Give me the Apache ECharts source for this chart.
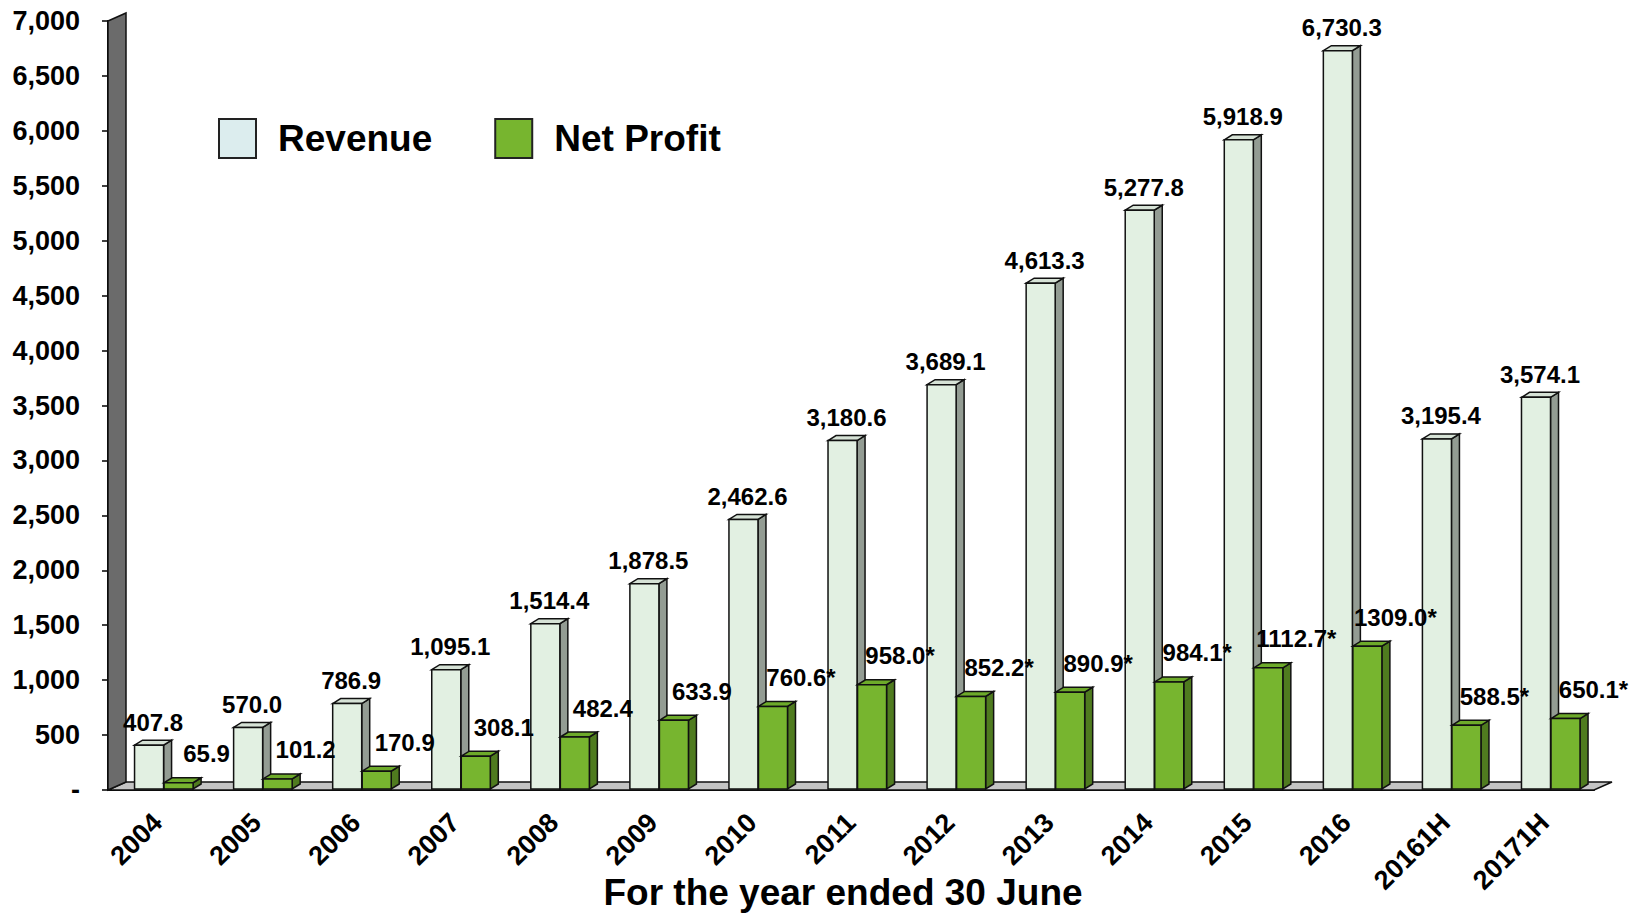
<!DOCTYPE html>
<html>
<head>
<meta charset="utf-8">
<script src="https://cdn.jsdelivr.net/npm/echarts@6/dist/echarts.min.js"></script>
<style>
html,body{margin:0;padding:0;background:#fff;}
#chart{width:1637px;height:913px;}
</style>
</head>
<body>
<div id="chart"></div>
<script>
// ---- data ----
const categories = ['2004','2005','2006','2007','2008','2009','2010','2011','2012','2013','2014','2015','2016','20161H','20171H'];
const revenue = [407.8, 570.0, 786.9, 1095.1, 1514.4, 1878.5, 2462.6, 3180.6, 3689.1, 4613.3, 5277.8, 5918.9, 6730.3, 3195.4, 3574.1];
const netProfit = [65.9, 101.2, 170.9, 308.1, 482.4, 633.9, 760.6, 958.0, 852.2, 890.9, 984.1, 1112.7, 1309.0, 588.5, 650.1];
const netProfitNote = ['', '', '', '', '', '', '*', '*', '*', '*', '*', '*', '*', '*', '*'];
const yMin = 0, yMax = 7000, yInterval = 500;
const xTitle = 'For the year ended 30 June';

// ---- styling ----
const FONT = 'Liberation Sans, Arial, sans-serif';
const BAR_DX = 8, BAR_DY = -5;
const WALL_DX = 18, WALL_DY = -8;

function fmtRevenue(v) {
  return v.toLocaleString('en-US', {minimumFractionDigits: 1, maximumFractionDigits: 1});
}

function makeBarRender(opt) {
  return function (params, api) {
    const idx = api.value(0), val = api.value(1);
    const c = api.coord([idx, val]);
    const b = api.coord([idx, 0]);
    const W = api.size([1, 0])[0];
    const x = c[0] + opt.offset * W;
    const w = opt.width * W;
    const top = c[1], bot = b[1] - 1;
    const stroke = {stroke: '#111', lineWidth: 1.5};
    const label = opt.label(idx, val);
    return {
      type: 'group',
      children: [
        {type: 'polygon', shape: {points: [[x + w, top], [x + w + BAR_DX, top + BAR_DY], [x + w + BAR_DX, bot + BAR_DY], [x + w, bot]]},
         style: Object.assign({fill: opt.side}, stroke)},
        {type: 'polygon', shape: {points: [[x, top], [x + BAR_DX, top + BAR_DY], [x + w + BAR_DX, top + BAR_DY], [x + w, top]]},
         style: Object.assign({fill: opt.top}, stroke)},
        {type: 'rect', shape: {x: x, y: top, width: w, height: bot - top},
         style: Object.assign({fill: opt.front}, stroke)},
        {type: 'text', z2: 100,
         style: {text: label, x: x + w / 2 + opt.labelDx, y: top - opt.labelDy,
                 align: 'center', verticalAlign: 'middle',
                 font: 'bold 24px ' + FONT, fill: '#000'}}
      ]
    };
  };
}

function renderFrame(params, api) {
  const cs = params.coordSys;
  const x0 = cs.x, x1 = cs.x + cs.width;
  const yTop = api.coord([0, yMax])[1];
  const y0 = api.coord([0, yMin])[1];
  const stroke = {stroke: '#111', lineWidth: 1.5};
  return {
    type: 'group',
    children: [
      {type: 'polygon', shape: {points: [[x0, y0], [x0 + WALL_DX, y0 + WALL_DY], [x1 + WALL_DX, y0 + WALL_DY], [x1, y0]]},
       style: Object.assign({fill: '#C4C4C4'}, stroke)},
      {type: 'polygon', shape: {points: [[x0, yTop], [x0 + WALL_DX, yTop + WALL_DY], [x0 + WALL_DX, y0 + WALL_DY], [x0, y0]]},
       style: Object.assign({fill: '#6B6B6B'}, stroke)}
    ]
  };
}

const chart = echarts.init(document.getElementById('chart'), null, {renderer: 'svg'});
chart.setOption({
  animation: false,
  backgroundColor: '#fff',
  grid: {left: 108, top: 21, width: 1486, height: 769, containLabel: false, outerBoundsMode: 'none'},
  legend: {
    left: 213, top: 113,
    itemWidth: 37, itemHeight: 39, itemGap: 62,
    icon: 'rect',
    itemStyle: {borderColor: '#222', borderWidth: 2},
    textStyle: {fontFamily: FONT, fontWeight: 'bold', fontSize: 37, color: '#000', padding: [0, 0, 0, 17]},
    data: [
      {name: 'Revenue', itemStyle: {color: '#DCEDEE'}},
      {name: 'Net Profit', itemStyle: {color: '#77B52F'}}
    ]
  },
  xAxis: {
    type: 'category',
    data: categories,
    boundaryGap: true,
    axisLine: {show: true, lineStyle: {color: '#000', width: 2}},
    axisTick: {show: true, inside: true, length: 6, lineStyle: {color: '#000', width: 1.5}},
    axisLabel: {rotate: 45, margin: 28, interval: 0, color: '#000', fontFamily: FONT, fontWeight: 'bold', fontSize: 27},
    splitLine: {show: false},
    name: xTitle,
    nameLocation: 'middle',
    nameGap: 84,
    nameMoveOverlap: false,
    nameTextStyle: {fontFamily: FONT, fontWeight: 'bold', fontSize: 37, color: '#000', padding: [0, 16, 0, 0]}
  },
  yAxis: {
    type: 'value',
    min: yMin, max: yMax, interval: yInterval,
    axisLine: {show: true, lineStyle: {color: '#000', width: 2}},
    axisTick: {show: true, length: 6, lineStyle: {color: '#000', width: 1.5}},
    axisLabel: {
      margin: 28, color: '#000', fontFamily: FONT, fontWeight: 'bold', fontSize: 27,
      formatter: v => v === 0 ? '-' : v.toLocaleString('en-US')
    },
    splitLine: {show: false}
  },
  series: [
    {
      name: 'frame', type: 'custom', z: 1, silent: true,
      data: [[0, 0]], renderItem: renderFrame, encode: {x: 0, y: 1}
    },
    {
      name: 'Revenue', type: 'custom', z: 2,
      itemStyle: {color: '#DCEDEE'},
      data: revenue.map((v, i) => [i, v]),
      encode: {x: 0, y: 1},
      renderItem: makeBarRender({
        offset: -0.232, width: 0.293,
        front: '#E2F0E2', side: '#939C93', top: '#D6E2D6',
        labelDx: 4, labelDy: 23,
        label: (i, v) => fmtRevenue(v)
      })
    },
    {
      name: 'Net Profit', type: 'custom', z: 3,
      itemStyle: {color: '#77B52F'},
      data: netProfit.map((v, i) => [i, v]),
      encode: {x: 0, y: 1},
      renderItem: makeBarRender({
        offset: 0.066, width: 0.293,
        front: '#77B52F', side: '#4F7B1F', top: '#6DAA2A',
        labelDx: 28, labelDy: 29,
        label: (i, v) => v.toFixed(1) + netProfitNote[i]
      })
    }
  ]
});
</script>
</body>
</html>
